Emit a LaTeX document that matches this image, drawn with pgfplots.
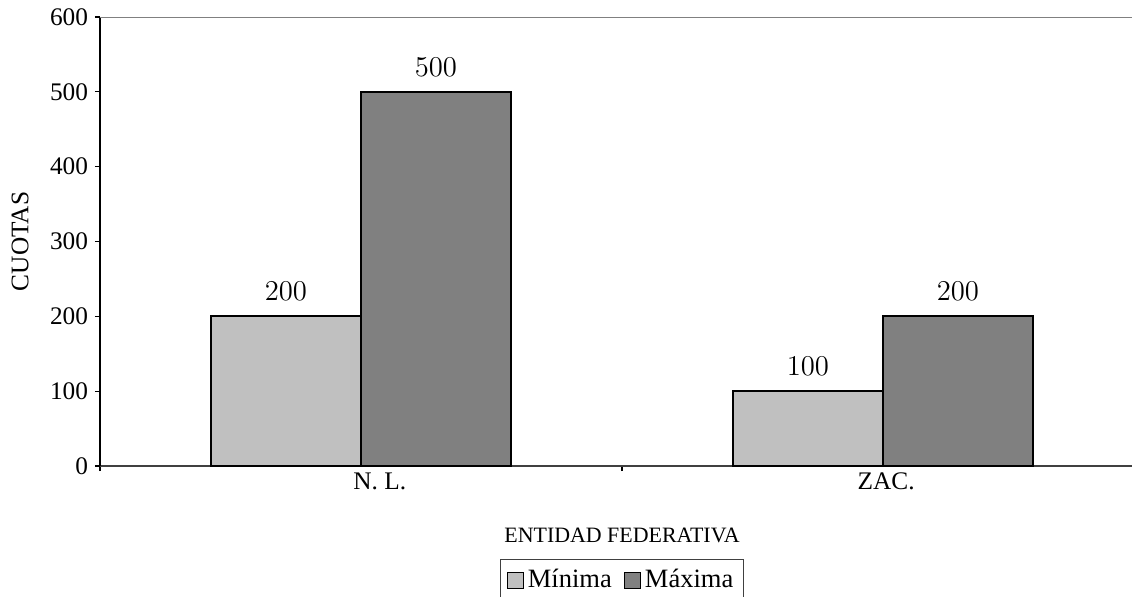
\documentclass[border=0pt]{standalone}
\usepackage{pgfplots}
\pgfplotsset{compat=1.18}
\usepackage{fontspec}
\setmainfont{Liberation Serif}

\definecolor{barmin}{RGB}{192,192,192}
\definecolor{barmax}{RGB}{128,128,128}
\definecolor{axisdark}{RGB}{64,64,64}

\begin{document}
\begin{tikzpicture}
\begin{axis}[
  at={(0,0)}, anchor=south west,
  scale only axis,
  width=522bp, height=224.5bp,
  xmin=0, xmax=2, ymin=0, ymax=600,
  axis x line*=bottom, axis y line*=left,
  x axis line style={draw=axisdark, line width=1bp, -},
  y axis line style={draw=black, line width=1bp, -},
  ybar=0pt, bar width=75bp,
  ytick={0,100,...,600},
  yticklabels={0,100,200,300,400,500,600},
  yticklabel style={font=\fontsize{12.7}{14}\selectfont},
  xtick={0,1,2}, xticklabels={},
  % category names sit slightly right of the group centres
  extra x ticks={0.536,1.506},
  extra x tick labels={N. L., ZAC.},
  extra x tick style={major tick length=0pt,
    xticklabel style={font=\fontsize{12.7}{14}\selectfont}},
  tick align=outside, major tick length=2.5bp,
  tick style={draw=black, line width=0.6bp},
  xlabel={ENTIDAD FEDERATIVA},
  xlabel style={at={(axis description cs:0.5,-0.1537)}, anchor=center,
    font=\fontsize{11}{12}\selectfont},
  ylabel={CUOTAS},
  ylabel style={at={(axis description cs:-0.0766,0.5)}, anchor=center,
    font=\fontsize{12.7}{14}\selectfont},
  nodes near coords,
  every node near coord/.append style={font=\fontsize{14}{16}\selectfont, yshift=4bp},
  legend columns=2,
  legend style={at={(axis description cs:0.5,-0.207)}, anchor=north,
    draw=axisdark, line width=0.6bp, inner xsep=3bp, inner ysep=3bp,
    font=\fontsize{13.3}{15}\selectfont,
    /tikz/every even column/.append style={column sep=4bp}},
  legend image code/.code={\draw[#1, line width=0.6bp] (0bp,-4bp) rectangle (8bp,4bp);},
]
\addplot[fill=barmin, draw=black, line width=1bp] coordinates {(0.5,200) (1.5,100)};
\addplot[fill=barmax, draw=black, line width=1bp] coordinates {(0.5,500) (1.5,200)};
\legend{Mínima, Máxima}
\draw[draw=barmax, line width=1bp] (rel axis cs:0,1) -- (rel axis cs:1,1);
\end{axis}
\pgfresetboundingbox
\path[use as bounding box] (-50bp,-65.5bp) rectangle (516bp,233bp);
\end{tikzpicture}
\end{document}
